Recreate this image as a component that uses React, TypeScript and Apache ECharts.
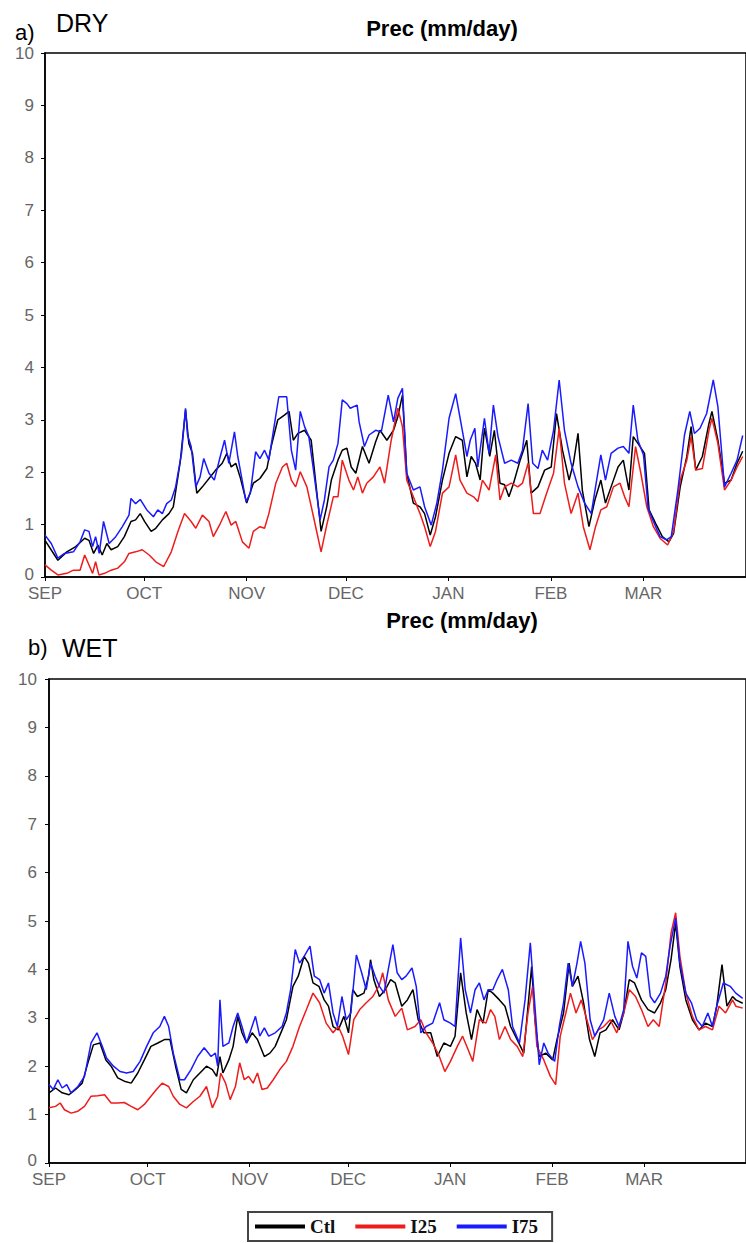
import React, { useEffect, useRef } from "react";
import * as echarts from "echarts";

const monthLabels = ["SEP", "OCT", "NOV", "DEC", "JAN", "FEB", "MAR"];
const monthStarts = [0, 30, 61, 91, 122, 153, 181];
const tickDays = [0, 30, 61, 91, 122, 153, 181, 212];

// panel a) DRY : [day since 1 Sep, mm/day]
const dryCtl: [number, number][] = [
  [0, 0.7], [3.9, 0.32], [6.6, 0.48], [9.3, 0.58], [12, 0.74], [13.3, 0.7], [14.7, 0.45], [16, 0.61], [17.3, 0.42], [18.7, 0.64],
  [20, 0.52], [22, 0.58], [24, 0.77], [26, 1.06], [27.4, 1.09], [28.8, 1.21], [30.1, 1.06], [32.1, 0.87], [33.5, 0.93], [35.5, 1.09],
  [37.5, 1.21], [38.8, 1.34], [40.9, 2.2], [42.5, 3.19], [43.5, 2.55], [44.6, 2.36], [45.9, 1.6], [47.6, 1.72], [49.6, 1.88], [51.6, 2.04],
  [53.6, 2.17], [55, 2.36], [56.3, 2.1], [57.7, 2.17], [59, 1.91], [61, 1.41], [63, 1.79], [65, 1.88], [67.1, 2.07], [68.4, 2.49],
  [70.4, 3.0], [72.4, 3.09], [73.8, 3.16], [75.1, 2.61], [76.5, 2.74], [78.5, 2.8], [80.5, 2.61], [81.9, 1.79], [83.5, 0.87], [85.2, 1.34],
  [86.6, 1.85], [88.6, 2.23], [89.9, 2.42], [91.3, 2.46], [92.6, 2.1], [94, 1.98], [96, 2.49], [98, 2.17], [100, 2.58], [101.3, 2.8],
  [103.4, 2.61], [105.4, 2.8], [106.7, 3.06], [108.1, 3.47], [109.4, 1.98], [111.4, 1.41], [113.4, 1.34], [114.8, 1.21], [116.5, 0.8], [118.1, 1.15],
  [120.2, 1.85], [122.2, 2.36], [124.2, 2.68], [126.2, 2.61], [127.6, 1.91], [128.9, 2.3], [130.2, 2.17], [131.6, 1.85], [132.9, 2.84], [134.5, 2.3],
  [135.9, 2.8], [137.6, 1.79], [139, 1.76], [140.3, 1.53], [141.7, 1.79], [143.7, 2.23], [145.7, 2.61], [147, 1.6], [149.1, 1.72], [151.1, 2.04],
  [153.1, 2.1], [154.7, 3.12], [156.5, 2.42], [158.5, 1.85], [159.8, 2.17], [161.2, 2.74], [162.5, 1.66], [164.5, 0.96], [166.3, 1.47], [168.1, 1.85],
  [169.5, 1.41], [171.2, 1.72], [173.3, 2.1], [174.9, 2.23], [176.6, 1.66], [177.9, 2.68], [179.3, 2.55], [181.3, 2.36], [182.7, 1.28], [184.7, 1.02],
  [186.7, 0.77], [188.7, 0.67], [190.1, 0.83], [192.1, 1.72], [194.1, 2.3], [195.4, 2.87], [196.8, 2.04], [198.8, 2.3], [200.8, 2.93], [201.7, 3.16],
  [203.5, 2.61], [205.5, 1.79], [207.5, 1.85], [209.3, 2.17], [211, 2.4],
];

const dryI25: [number, number][] = [
  [0, 0.23], [1.9, 0.13], [3.9, 0.04], [6.6, 0.07], [8.6, 0.13], [10.6, 0.13], [12, 0.42], [13.3, 0.23], [14.4, 0.07], [15.3, 0.29],
  [16.3, 0.04], [18, 0.07], [20, 0.13], [22, 0.17], [24, 0.29], [25.4, 0.45], [27.4, 0.48], [29.4, 0.52], [31.5, 0.42], [33.5, 0.29],
  [35.9, 0.2], [38.2, 0.48], [40.2, 0.87], [42.2, 1.21], [44.2, 1.06], [45.6, 0.93], [47.6, 1.18], [49.6, 1.06], [50.9, 0.77], [53, 1.02],
  [54.7, 1.25], [56.3, 0.99], [57.7, 1.06], [59.7, 0.67], [61.7, 0.55], [63, 0.87], [65, 0.96], [66.4, 0.93], [67.7, 1.21], [69.8, 1.79],
  [71.8, 2.1], [73.1, 2.17], [74.5, 1.85], [75.8, 1.72], [77.2, 2.01], [79.2, 1.72], [81.2, 1.15], [83.5, 0.48], [85.2, 0.99], [87.2, 1.53],
  [88.6, 1.53], [89.9, 2.23], [91.9, 1.85], [93.3, 1.66], [94.6, 1.91], [96, 1.6], [97.3, 1.79], [99.3, 1.91], [101.3, 2.1], [102.7, 1.79],
  [104.7, 2.61], [106.7, 3.22], [108.1, 2.87], [109.4, 1.85], [111.4, 1.53], [113.4, 1.21], [114.8, 0.96], [116.5, 0.58], [118.1, 0.87], [120.2, 1.6],
  [122.2, 1.72], [124.2, 2.33], [125.5, 1.85], [127.6, 1.6], [129.6, 1.53], [130.9, 1.44], [132.3, 1.85], [134.3, 1.66], [136.3, 2.33], [137.6, 1.47],
  [139, 1.72], [141, 1.79], [143, 1.72], [144.4, 1.79], [146.1, 2.17], [147.7, 1.21], [149.7, 1.21], [151.7, 1.6], [153.8, 1.98], [155.5, 2.84],
  [157.1, 1.79], [159.1, 1.21], [161.2, 1.6], [162.8, 0.96], [164.8, 0.52], [166.5, 0.96], [168.1, 1.28], [169.9, 1.34], [171.9, 1.72], [173.9, 1.79],
  [175.3, 1.53], [176.6, 1.34], [178.6, 2.49], [180.2, 1.98], [182, 1.34], [184, 0.96], [186, 0.74], [188.3, 0.61], [190.1, 0.87], [192.1, 1.85],
  [194.1, 2.23], [195.4, 2.68], [196.8, 2.04], [198.8, 2.07], [200.8, 2.8], [201.7, 3.03], [203.5, 2.55], [205.5, 1.66], [207.5, 1.85], [209.3, 2.1],
  [211, 2.3],
];

const dryI75: [number, number][] = [
  [0, 0.8], [1.9, 0.64], [3.9, 0.36], [5.9, 0.45], [8.6, 0.48], [10.6, 0.67], [12, 0.9], [13.3, 0.87], [14.4, 0.58], [15.3, 0.77],
  [16.4, 0.45], [17.7, 1.06], [19.4, 0.64], [21.4, 0.77], [23.4, 0.96], [25.4, 1.18], [26, 1.5], [27.4, 1.4], [28.8, 1.48], [30.8, 1.28],
  [32.8, 1.15], [34.1, 1.28], [35.5, 1.21], [36.8, 1.4], [38.2, 1.47], [39.5, 1.72], [41.3, 2.36], [42.5, 3.22], [43.1, 2.71], [44.2, 2.49],
  [45.6, 1.72], [46.9, 1.91], [48, 2.26], [49.6, 1.98], [51.2, 1.85], [53, 2.3], [54.3, 2.61], [55.6, 2.17], [57.3, 2.77], [58.3, 2.3],
  [60.8, 1.44], [62.1, 1.6], [63.7, 2.39], [65, 2.26], [66.4, 2.42], [67.7, 2.23], [69.1, 2.8], [70.7, 3.44], [73.1, 3.44], [74.5, 2.42],
  [75.8, 2.04], [77.2, 3.16], [78.5, 2.87], [79.8, 2.68], [81.2, 2.04], [83.2, 1.09], [84.5, 1.47], [85.9, 2.1], [87.2, 2.23], [88.6, 2.55],
  [89.9, 3.38], [91.3, 3.31], [92.3, 3.22], [94.4, 3.28], [95, 2.96], [96.6, 2.49], [98, 2.71], [100, 2.8], [101.7, 2.77], [103.8, 3.47],
  [105.4, 2.96], [106.7, 3.41], [108.1, 3.6], [109.4, 1.98], [111.4, 1.66], [113.4, 1.72], [114.8, 1.34], [116.8, 0.99], [118.5, 1.41], [120.2, 2.04],
  [122.2, 3.03], [124.2, 3.5], [126.2, 2.8], [127.6, 2.3], [128.6, 2.61], [130, 2.84], [130.9, 2.1], [132.9, 3.03], [134.3, 2.36], [135.6, 3.28],
  [137, 2.68], [139, 2.17], [141, 2.23], [143, 2.17], [144.4, 2.42], [146.1, 3.31], [147.5, 2.17], [149.1, 2.07], [150.4, 2.42], [152, 2.23],
  [153.8, 2.8], [155.5, 3.76], [157.1, 2.8], [159.1, 2.17], [161.2, 1.72], [163.2, 1.41], [165.2, 1.21], [166.5, 1.72], [168.1, 2.33], [169.5, 1.85],
  [171.2, 2.36], [173.3, 2.46], [174.9, 2.49], [176.6, 2.36], [177.9, 3.28], [179.3, 2.61], [181, 2.33], [182.4, 1.31], [184, 1.06], [186, 0.77],
  [188, 0.71], [189.4, 0.77], [191.4, 1.66], [193.4, 2.71], [195, 3.16], [196.4, 2.74], [198.1, 2.84], [200.1, 3.12], [202.1, 3.76], [203.5, 3.25],
  [205.5, 1.72], [207.5, 1.98], [209.3, 2.23], [211, 2.7],
];

// panel b) WET
const wetCtl: [number, number][] = [
  [0, 1.45], [2, 1.55], [4, 1.45], [6.1, 1.41], [8.1, 1.52], [10.1, 1.65], [12.1, 2.13], [13.5, 2.44], [15.5, 2.48], [17.3, 2.13],
  [18.9, 2.0], [20.9, 1.76], [22.9, 1.69], [25, 1.65], [27, 1.86], [29, 2.13], [31, 2.41], [33.1, 2.48], [35.1, 2.55], [36.8, 2.55],
  [38.5, 2.0], [40.2, 1.52], [41.8, 1.45], [43.9, 1.72], [45.9, 1.86], [47.9, 2.0], [49.7, 1.93], [51, 1.79], [52, 2.2], [52.9, 1.86],
  [54.7, 2.13], [56, 2.41], [57.4, 3.03], [58.7, 2.69], [60.1, 2.48], [61.8, 2.69], [63.4, 2.55], [65.5, 2.2], [67.2, 2.27], [68.8, 2.41],
  [70.9, 2.75], [72.2, 2.96], [74.2, 3.65], [75.8, 3.86], [77.6, 4.27], [78.9, 4.13], [80.3, 3.72], [82.1, 3.65], [83.7, 3.37], [85, 3.24],
  [86.4, 2.82], [88, 2.75], [89.7, 3.03], [91.1, 2.69], [92.4, 3.58], [93.8, 3.44], [95.8, 3.51], [97.2, 3.86], [97.8, 4.2], [98.8, 3.79],
  [100.5, 3.44], [102.3, 3.58], [103.9, 3.79], [105.3, 3.72], [107.3, 3.24], [109, 3.37], [110.7, 3.58], [112.3, 2.96], [114, 2.69], [116.1, 2.69],
  [118.1, 2.2], [120.1, 2.48], [122.1, 2.41], [123.5, 2.62], [125.2, 3.93], [126.9, 3.1], [128.5, 2.55], [130.2, 3.17], [132, 2.89], [133.6, 3.58],
  [135, 3.51], [137, 3.37], [138.7, 3.24], [140.4, 2.82], [142.4, 2.55], [144.4, 2.27], [145.7, 3.24], [146.8, 4.06], [147.8, 2.96], [149.1, 2.2],
  [151.1, 2.27], [153.2, 2.13], [154.5, 2.55], [156.5, 3.1], [158.2, 4.13], [159.2, 3.65], [160.9, 3.86], [162.6, 3.31], [164.4, 2.55], [166, 2.2],
  [167.6, 2.69], [169.4, 2.75], [171.4, 2.96], [173.4, 2.75], [174.8, 3.1], [176.5, 3.79], [178.1, 3.72], [180.2, 3.37], [182.2, 3.17], [184.2, 3.1],
  [186, 3.31], [187.6, 3.58], [189.2, 4.2], [190.6, 4.96], [191.9, 4.06], [193.7, 3.37], [195.7, 2.96], [197.7, 2.75], [199.7, 2.89], [201.8, 2.82],
  [203.1, 3.24], [204.7, 4.1], [206.2, 3.24], [207.9, 3.44], [208.9, 3.37], [211, 3.3],
];

const wetI25: [number, number][] = [
  [0, 1.14], [2, 1.17], [3.4, 1.24], [4.7, 1.1], [6.7, 1.03], [8.8, 1.07], [10.8, 1.17], [12.8, 1.38], [14.8, 1.39], [16.9, 1.41],
  [18.9, 1.24], [20.9, 1.24], [22.9, 1.25], [25, 1.17], [27, 1.1], [29, 1.21], [31, 1.38], [32.7, 1.52], [34.4, 1.65], [36.4, 1.58],
  [37.8, 1.38], [39.8, 1.21], [41.8, 1.14], [43.9, 1.27], [45.9, 1.38], [47.9, 1.58], [49.7, 1.14], [51.3, 1.38], [52.2, 1.86], [53.7, 1.65],
  [55.1, 1.31], [56.7, 1.58], [58, 2.07], [59.4, 1.72], [60.7, 1.79], [62.1, 1.65], [63.4, 1.86], [64.8, 1.52], [66.4, 1.55], [68.2, 1.72],
  [70.2, 1.93], [72.2, 2.1], [74.2, 2.41], [76.2, 2.82], [78.3, 3.17], [80.3, 3.51], [82.3, 3.31], [84.3, 2.89], [86.4, 2.69], [88, 2.82],
  [89.3, 2.62], [91.1, 2.24], [92.7, 2.96], [94.5, 3.17], [96.5, 3.31], [98.5, 3.44], [100.5, 3.68], [101.5, 3.93], [103.2, 3.37], [105.3, 3.03],
  [107.3, 3.2], [109, 2.75], [111.3, 2.82], [113.1, 2.96], [114.7, 2.69], [116.7, 2.48], [118.5, 2.24], [120.4, 1.89], [122.1, 2.1], [124.2, 2.41],
  [125.8, 2.62], [127.5, 2.34], [128.9, 2.1], [130.9, 2.96], [132.9, 2.89], [134.3, 3.17], [135.6, 3.03], [137, 2.55], [138.7, 2.82], [140.4, 2.55],
  [142.4, 2.41], [144.1, 2.2], [145.7, 3.1], [147.1, 3.65], [148.4, 2.41], [150.5, 2.13], [152.5, 1.79], [154.1, 1.62], [155.5, 2.62], [157.2, 3.1],
  [158.6, 3.51], [160.3, 3.1], [161.9, 3.37], [163.6, 2.96], [165.3, 2.55], [167.1, 2.75], [168.7, 2.82], [170.7, 2.96], [172.7, 2.69], [174.8, 3.1],
  [176.5, 3.58], [178.4, 3.44], [180.2, 3.17], [182.2, 2.82], [183.8, 2.96], [185.6, 2.82], [187.6, 3.72], [189.2, 4.75], [190.6, 5.17], [191.9, 4.27],
  [193.7, 3.51], [195.7, 3.03], [197.7, 2.75], [199.7, 2.82], [201.8, 2.75], [203.8, 3.24], [205.8, 3.1], [207.9, 3.37], [208.9, 3.24], [211, 3.2],
];

const wetI75: [number, number][] = [
  [0, 1.62], [1.3, 1.52], [2.7, 1.72], [4, 1.55], [5.4, 1.62], [6.7, 1.45], [8.8, 1.58], [10.8, 1.79], [12.8, 2.48], [14.6, 2.69],
  [16.2, 2.41], [17.5, 2.17], [19.6, 2.0], [21.6, 1.89], [23.6, 1.86], [25.6, 1.89], [27.7, 2.1], [29.7, 2.41], [31.7, 2.69], [33.7, 2.82],
  [35.1, 3.03], [36.4, 2.82], [37.8, 2.27], [39.8, 1.72], [41.2, 1.72], [43.2, 1.93], [45.2, 2.2], [47.2, 2.38], [49.3, 2.2], [50.6, 2.27],
  [51.3, 2.0], [52, 3.37], [52.9, 2.41], [54.7, 2.48], [56, 2.82], [57.4, 3.1], [58.7, 2.82], [60.1, 2.48], [61.4, 2.75], [62.8, 3.03],
  [64.1, 2.62], [65.5, 2.79], [66.8, 2.62], [68.8, 2.69], [70.9, 2.82], [72.2, 3.1], [73.5, 3.58], [74.9, 4.41], [76.2, 4.13], [77.6, 4.27],
  [79.4, 4.48], [80.7, 3.86], [82.3, 3.79], [83.7, 3.51], [85, 3.72], [86.4, 3.1], [87.7, 2.82], [89.1, 3.44], [90.4, 2.96], [91.8, 3.1],
  [93.5, 4.3], [95.1, 3.93], [96.5, 3.58], [97.8, 4.13], [99.2, 3.86], [100.5, 3.65], [101.9, 3.51], [103.2, 4.0], [104.6, 4.51], [105.9, 3.93],
  [107.3, 3.79], [108.6, 3.86], [110.4, 4.03], [111.7, 3.65], [113.1, 2.69], [114.7, 2.82], [116.7, 2.89], [118.8, 3.31], [120.1, 2.96], [122.1, 2.89],
  [123.5, 2.82], [125.2, 4.65], [126.6, 3.58], [128.2, 3.1], [129.6, 3.58], [130.9, 3.72], [132.3, 3.37], [133.6, 3.58], [135, 3.58], [136.3, 3.79],
  [137.9, 4.0], [139.7, 3.58], [141, 2.82], [143.1, 2.48], [144.8, 3.37], [146.4, 4.55], [147.8, 3.24], [149.1, 2.03], [150.5, 2.48], [151.8, 2.27],
  [153.8, 2.1], [155.2, 2.82], [156.5, 3.31], [157.9, 4.13], [159.2, 3.65], [160.6, 4.13], [161.7, 4.58], [163, 4.13], [164.6, 2.96], [166, 2.62],
  [167.3, 2.79], [168.7, 2.96], [170.4, 3.51], [172.1, 3.03], [173.4, 2.82], [174.8, 3.17], [176.1, 4.58], [177.5, 4.06], [178.8, 3.82], [180.2, 4.34],
  [181.5, 4.27], [182.9, 3.44], [184.2, 3.31], [186, 3.51], [187.6, 3.86], [188.9, 4.48], [190.6, 5.06], [191.9, 4.13], [193.7, 3.51], [195.4, 3.31],
  [197, 2.96], [198.7, 2.82], [200.4, 3.1], [201.8, 2.82], [203.1, 3.24], [205.1, 3.72], [207.2, 3.65], [208.9, 3.51], [211, 3.4],
];

const seriesNames = ["Ctl", "I25", "I75"];
const seriesColors = ["#000000", "#ee1c1c", "#1a1aff"];

export default function App() {
  const ref = useRef<HTMLDivElement>(null);

  useEffect(() => {
    if (!ref.current) return;
    const chart = echarts.init(ref.current, null, { renderer: "svg", width: 746, height: 1243 });
    const sans = "'Liberation Sans', Arial, sans-serif";
    const serif = "'Liberation Serif', 'Times New Roman', serif";

    const xAxis = (gridIndex: number) => ({
      type: "value",
      gridIndex,
      min: 0,
      max: 212,
      axisLine: { show: true, onZero: false, lineStyle: { color: "#000", width: 1.5 } },
      axisTick: { show: true, customValues: tickDays, length: 4, lineStyle: { color: "#000", width: 1 } },
      axisLabel: {
        customValues: monthStarts,
        formatter: (v: number) => {
          const i = monthStarts.indexOf(Math.round(v));
          return i >= 0 ? monthLabels[i] : "";
        },
        fontSize: 17,
        lineHeight: 14,
        color: "#666",
        fontFamily: sans,
        margin: 9,
      },
      splitLine: { show: false },
    });

    const yAxis = (gridIndex: number, margin: number) => ({
      type: "value",
      gridIndex,
      min: 0,
      max: 10,
      interval: 1,
      axisLine: { show: true, onZero: false, lineStyle: { color: "#000", width: 1.5 } },
      axisTick: { show: true, length: 4, lineStyle: { color: "#000", width: 1 } },
      axisLabel: {
        fontSize: 17,
        lineHeight: 12,
        color: "#666",
        fontFamily: sans,
        margin,
        formatter: (v: number) => (v === 0 ? "{z|0}" : String(v)),
        rich: { z: { fontSize: 17, lineHeight: 12, color: "#666", fontFamily: sans, padding: [0, 0, 5, 0] } },
      },
      splitLine: { show: false },
    });

    const panels = [
      [dryCtl, dryI25, dryI75],
      [wetCtl, wetI25, wetI75],
    ];
    const series: any[] = [];
    panels.forEach((sets, gi) => {
      sets.forEach((data, si) => {
        series.push({
          type: "line",
          name: seriesNames[si],
          xAxisIndex: gi,
          yAxisIndex: gi,
          data,
          showSymbol: false,
          symbol: "none",
          color: seriesColors[si],
          lineStyle: { color: seriesColors[si], width: 1.5 },
          clip: true,
          z: 2 + si,
        });
      });
    });

    const txt = (text: string, x: number, y: number, size: number, weight: string, align: string) => ({
      type: "text",
      x,
      y,
      style: {
        text,
        fill: "#000",
        font: `${weight} ${size}px ${sans}`,
        textAlign: align,
        textVerticalAlign: "middle",
      },
    });

    chart.setOption({
      animation: false,
      backgroundColor: "#fff",
      grid: [
        { left: 45, top: 53, width: 711, height: 524, show: true, borderColor: "#000", borderWidth: 1.5, backgroundColor: "transparent" },
        { left: 49, top: 679, width: 707, height: 484, show: true, borderColor: "#000", borderWidth: 1.5, backgroundColor: "transparent" },
      ],
      xAxis: [xAxis(0), xAxis(1)],
      yAxis: [yAxis(0, 11), yAxis(1, 12)],
      series,
      legend: {
        data: seriesNames,
        left: 248,
        top: 1212,
        orient: "horizontal",
        icon: "rect",
        itemWidth: 50,
        itemHeight: 4,
        itemGap: 20,
        padding: [5, 14, 5, 7],
        borderColor: "#444",
        borderWidth: 2,
        textStyle: {
          fontFamily: serif,
          fontWeight: "bold",
          fontSize: 19,
          color: "#111",
        },
      },
      graphic: [
        txt("a)", 15, 32, 22, "normal", "left"),
        txt("DRY", 56, 23, 25, "normal", "left"),
        txt("Prec (mm/day)", 442, 28, 22, "bold", "center"),
        txt("b)", 28, 647, 22, "normal", "left"),
        txt("WET", 62, 648, 25, "normal", "left"),
        txt("Prec (mm/day)", 462, 620, 22, "bold", "center"),
      ],
    });

    return () => chart.dispose();
  }, []);

  return (
    <div
      ref={ref}
      style={{ position: "absolute", left: 0, top: 0, width: 746, height: 1243, background: "#fff" }}
    />
  );
}
